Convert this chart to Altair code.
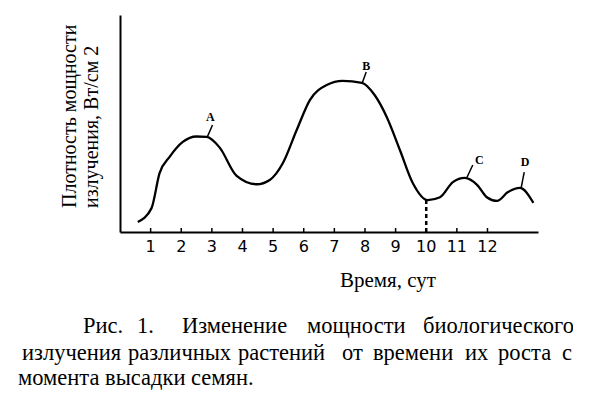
import altair as alt
import pandas as pd

# ---- data ----
days = [0.58, 1.03, 1.29, 1.62, 2.05, 2.5, 2.83, 3.25, 3.8, 4.46, 4.89, 5.32, 5.77, 6.2,
        6.75, 7.27, 7.9, 8.32, 8.71, 9.14, 9.56, 10.05, 10.45, 10.87, 11.26, 11.66,
        11.98, 12.31, 12.67, 13.06, 13.5]
power = [4.6, 11, 27, 34.6, 41.5, 44, 43.8, 39, 26, 22, 24, 31.8, 47, 60.8,
         67.7, 69.6, 68.7, 63, 53, 37.8, 22.6, 14.7, 16, 23, 24.9, 21.7,
         16, 14.3, 18.4, 20.3, 13.4]
tick_days = list(range(1, 13))
tick_labels = [str(d) for d in tick_days]
peak_names = ["A", "B", "C", "D"]
peak_x = [2.95, 8.04, 11.73, 13.23]
peak_y = [53.0, 76.5, 33.2, 32.3]
lead_x1 = [2.85, 7.91, 11.32, 13.10]
lead_y1 = [43.8, 68.7, 24.9, 20.3]
lead_x2 = [3.02, 8.04, 11.52, 13.20]
lead_y2 = [49.3, 73.7, 30.9, 27.6]
dash_day = [10]
dash_top = [14.7]

y_title = ["Плотность мощности", "излучения, Вт/см 2"]
x_title = "Время, сут"
caption1 = ["Рис.", "1.", "Изменение", "мощности", "биологического"]
caption2 = ["излучения", "различных", "растений", "от", "времени", "их", "роста", "с"]
caption3 = "момента высадки семян."

# ---- layout ----
W, H = 418, 217
SERIF = "'Liberation Serif', 'Times New Roman', serif"
xs = alt.Scale(domain=[0, 13.65], nice=False, zero=False)
ys = alt.Scale(domain=[0, 100], nice=False, zero=True)

curve_df = pd.DataFrame({"t": days, "v": power})
curve = alt.Chart(curve_df).mark_line(
    interpolate="monotone", color="black", strokeWidth=2.3
).encode(
    x=alt.X("t:Q", scale=xs, axis=alt.Axis(
        labels=False, ticks=False, grid=False, title=None,
        domainColor="black", domainWidth=2)),
    y=alt.Y("v:Q", scale=ys, axis=alt.Axis(
        labels=False, ticks=False, grid=False, title=None,
        domainColor="black", domainWidth=2)),
)

tick_df = pd.DataFrame({"t": tick_days, "lab": tick_labels})
ticks = alt.Chart(tick_df).mark_rule(color="black", strokeWidth=1.5).encode(
    x=alt.X("t:Q", scale=xs),
    y=alt.value(H),
    y2=alt.value(H - 4),
)
tick_text = alt.Chart(tick_df).mark_text(
    font="DejaVu Sans", fontSize=16, color="black", baseline="top", align="center"
).encode(
    x=alt.X("t:Q", scale=xs),
    y=alt.value(H + 7),
    text="lab:N",
)

dash = alt.Chart(pd.DataFrame({"t": dash_day, "top": dash_top, "bot": [0]})).mark_rule(
    color="black", strokeWidth=2.5, strokeDash=[4, 3]
).encode(
    x=alt.X("t:Q", scale=xs),
    y=alt.Y("bot:Q", scale=ys),
    y2="top:Q",
)

lead_df = pd.DataFrame({"x1": lead_x1, "y1": lead_y1, "x2": lead_x2, "y2": lead_y2})
leaders = alt.Chart(lead_df).mark_rule(color="black", strokeWidth=1.5).encode(
    x=alt.X("x1:Q", scale=xs), x2="x2:Q",
    y=alt.Y("y1:Q", scale=ys), y2="y2:Q",
)

peaks = alt.Chart(pd.DataFrame({"n": peak_names, "x": peak_x, "y": peak_y})).mark_text(
    font=SERIF, fontSize=12, fontWeight="bold", color="black", baseline="middle"
).encode(
    x=alt.X("x:Q", scale=xs), y=alt.Y("y:Q", scale=ys), text="n:N"
)

def label(text, x, y, size, angle=0, align="left"):
    return alt.Chart(pd.DataFrame({"s": [text]})).mark_text(
        font=SERIF, fontSize=size, color="black", align=align,
        baseline="alphabetic", angle=angle
    ).encode(x=alt.value(x), y=alt.value(y), text="s:N")

texts = [
    label(y_title[0], -44, 193, 20, angle=270),
    label(y_title[1], -22, 193, 20, angle=270),
    label(x_title, 220, 272, 21),
]
for w, x in zip(caption1, [-37, 17, 62, 187, 303]):
    texts.append(label(w, x, 318, 22.5))
for w, x in zip(caption2, [-98, 8, 118, 222, 253, 345, 378, 442]):
    texts.append(label(w, x, 345, 22.5))
texts.append(label(caption3, -102, 370, 22.5))

chart = alt.layer(curve, ticks, tick_text, dash, leaders, peaks, *texts).properties(
    width=W, height=H,
    padding={"left": 112, "top": 7, "right": 35, "bottom": 158},
    autosize="none",
    background="white",
).configure_view(stroke=None)

chart.save("out.html", embed_options={"renderer": "svg", "actions": False})
